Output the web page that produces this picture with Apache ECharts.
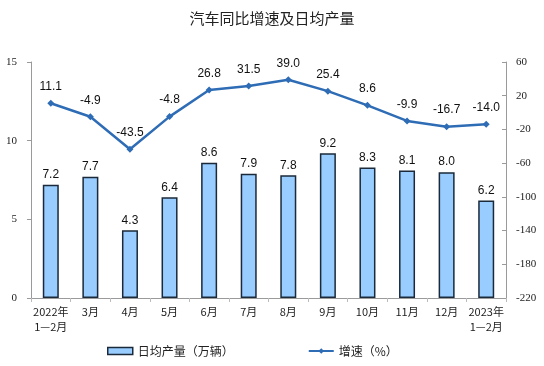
<!DOCTYPE html>
<html><head><meta charset="utf-8">
<script src="https://cdn.jsdelivr.net/npm/echarts@6/dist/echarts.min.js"></script>
<style>html,body{margin:0;padding:0;background:#fff}#c{width:544px;height:366px}</style>
</head><body><div id="c"></div>
<script>
const categories = ['2022年\n1—2月','3月','4月','5月','6月','7月','8月','9月','10月','11月','12月','2023年\n1—2月'];
const dailyOutput = [7.2, 7.7, 4.3, 6.4, 8.6, 7.9, 7.8, 9.2, 8.3, 8.1, 8.0, 6.2];
const growth = [11.1, -4.9, -43.5, -4.8, 26.8, 31.5, 39.0, 25.4, 8.6, -9.9, -16.7, -14.0];
const leftTicks = {min: 0, max: 15, interval: 5};
const rightTicks = {min: -220, max: 60, interval: 40};

const chart = echarts.init(document.getElementById('c'));
chart.setOption({
  animation: false,
  title: {text: '汽车同比增速及日均产量', left: 'center', top: 6,
    textStyle: {fontSize: 15, fontWeight: 'normal', color: '#222', fontFamily: 'Noto Sans CJK SC'}},
  legend: {
    bottom: 4, itemGap: 74, left: 102,
    textStyle: {fontSize: 12, color: '#222', fontFamily: 'Noto Sans CJK SC'},
    data: [
      {name: '日均产量（万辆）', icon: 'rect', itemStyle: {color: '#99CCFF', borderColor: '#1a2a3a', borderWidth: 1.5}},
      {name: '增速（%）'}
    ],
    itemWidth: 25, itemHeight: 7
  },
  grid: {left: 31, right: 38, top: 62, bottom: 68},
  xAxis: {
    type: 'category', data: categories, boundaryGap: true,
    axisLine: {lineStyle: {color: '#9a9a9a'}},
    axisTick: {show: true, alignWithLabel: false, length: 4, lineStyle: {color: '#bbb'}},
    axisLabel: {fontSize: 11, color: '#222', fontFamily: 'Noto Sans CJK SC', lineHeight: 15, interval: 0, margin: 6}
  },
  yAxis: [
    {type: 'value', min: leftTicks.min, max: leftTicks.max, interval: leftTicks.interval,
      splitLine: {show: false},
      axisLine: {show: true, lineStyle: {color: '#9a9a9a'}},
      axisTick: {show: true, length: 4, lineStyle: {color: '#9a9a9a'}},
      axisLabel: {fontSize: 11, color: '#222', fontFamily: 'Liberation Serif', margin: 14}},
    {type: 'value', min: rightTicks.min, max: rightTicks.max, interval: rightTicks.interval,
      splitLine: {show: false},
      axisLine: {show: true, lineStyle: {color: '#9a9a9a'}},
      axisTick: {show: true, inside: true, length: 4, lineStyle: {color: '#9a9a9a'}},
      axisLabel: {fontSize: 11, color: '#222', fontFamily: 'Liberation Serif', margin: 10}}
  ],
  series: [
    {name: '日均产量（万辆）', type: 'bar', yAxisIndex: 0, data: dailyOutput, barWidth: 16,
      itemStyle: {color: '#99CCFF', borderColor: '#1a2a3a', borderWidth: 1.5},
      label: {show: true, position: 'top', fontSize: 12, color: '#111', fontFamily: 'Liberation Sans', distance: 4,
        formatter: p => p.value.toFixed(1)}},
    {name: '增速（%）', type: 'line', yAxisIndex: 1, data: growth,
      symbol: 'diamond', symbolSize: 7,
      lineStyle: {color: '#2E6CB5', width: 2.5},
      itemStyle: {color: '#2E6CB5'},
      label: {show: true, position: 'top', fontSize: 12, color: '#111', fontFamily: 'Liberation Sans', distance: 7,
        formatter: p => p.value.toFixed(1)}}
  ]
});
</script></body></html>
